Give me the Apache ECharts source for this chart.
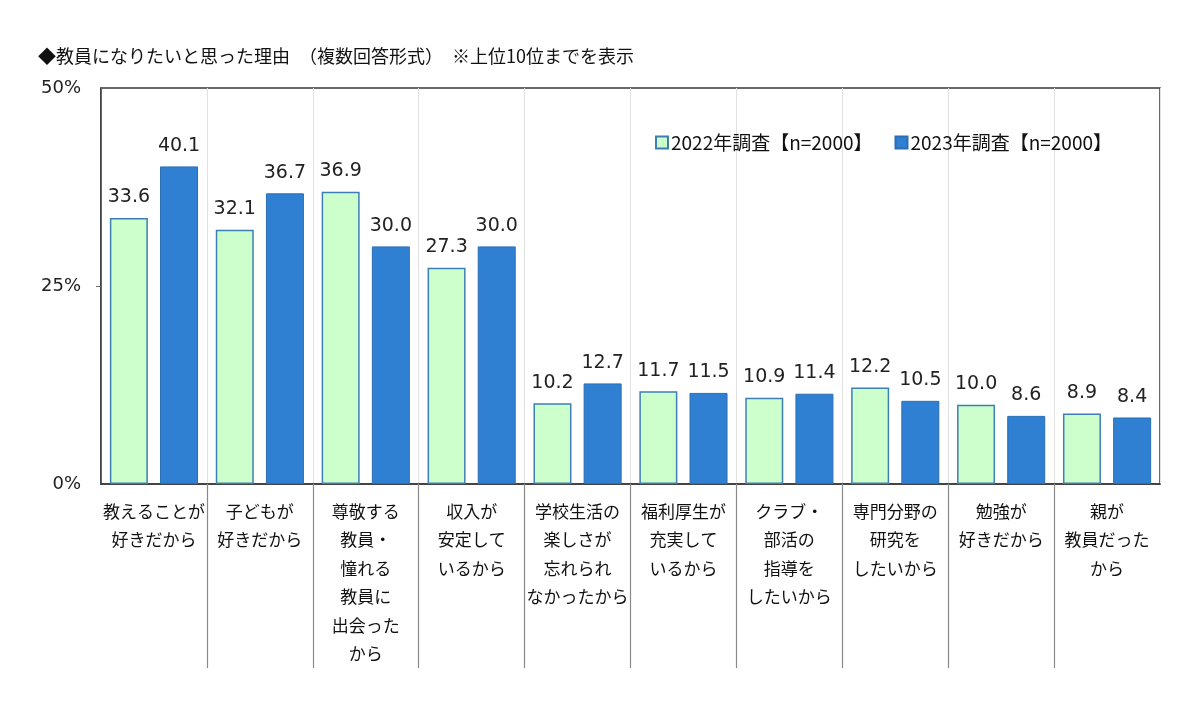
<!DOCTYPE html>
<html><head><meta charset="utf-8">
<script src="https://cdn.jsdelivr.net/npm/echarts@6/dist/echarts.min.js"></script>
<style>html,body{margin:0;padding:0;background:#fff}#c{width:1200px;height:701px}</style>
</head><body><div id="c"></div>
<script>
const titleText = '◆教員になりたいと思った理由　（複数回答形式）　※上位10位までを表示';
const categories = [
  '教えることが\n好きだから',
  '子どもが\n好きだから',
  '尊敬する\n教員・\n憧れる\n教員に\n出会った\nから',
  '収入が\n安定して\nいるから',
  '学校生活の\n楽しさが\n忘れられ\nなかったから',
  '福利厚生が\n充実して\nいるから',
  'クラブ・\n部活の\n指導を\nしたいから',
  '専門分野の\n研究を\nしたいから',
  '勉強が\n好きだから',
  '親が\n教員だった\nから'
];
const seriesNames = ['2022年調査【n=2000】', '2023年調査【n=2000】'];
const values2022 = [33.6, 32.1, 36.9, 27.3, 10.2, 11.7, 10.9, 12.2, 10.0, 8.9];
const values2023 = [40.1, 36.7, 30.0, 30.0, 12.7, 11.5, 11.4, 10.5, 8.6, 8.4];
const yTicks = [0, 25, 50];
const yInnerTicks = [25];
const separatorPositions = [1, 2, 3, 4, 5, 6, 7, 8, 9];

const jp = '"Noto Sans CJK JP", "Noto Sans", sans-serif';
const num = '"DejaVu Sans", Verdana, sans-serif';
const chart = echarts.init(document.getElementById('c'), null, {renderer: 'canvas'});
const labelCfg = {
  show: true, position: 'top', distance: 11,
  fontFamily: num, fontSize: 19, color: '#222',
  formatter: p => p.value.toFixed(1)
};
chart.setOption({
  animation: false,
  title: {
    text: titleText, left: 33, top: 42,
    textStyle: {fontFamily: jp, fontSize: 18, fontWeight: 'normal', color: '#111'}
  },
  legend: {
    left: 650, top: 128, itemWidth: 12, itemHeight: 12, itemGap: 22, icon: 'rect',
    textStyle: {fontFamily: jp, fontSize: 19, color: '#111', padding: [0, 0, 0, -2]},
    data: seriesNames
  },
  grid: {
    left: 101, right: 40, top: 88, bottom: 217,
    show: true, borderColor: '#3a3a3a', borderWidth: 1.5, backgroundColor: 'transparent'
  },
  xAxis: [{
    type: 'category', data: categories,
    axisLine: {lineStyle: {color: '#3a3a3a', width: 1.5}},
    axisTick: {show: false},
    splitLine: {show: true, lineStyle: {color: '#e2e2e2', width: 1}},
    axisLabel: {
      interval: 0, margin: 13, fontFamily: jp, fontSize: 17, lineHeight: 28.5,
      color: '#111', verticalAlign: 'top'
    }
  }, {
    type: 'value', min: 0, max: 10, position: 'bottom',
    axisLine: {show: false},
    axisLabel: {show: false},
    splitLine: {show: false},
    axisTick: {show: true, customValues: separatorPositions, length: 184, inside: false,
      lineStyle: {color: '#8a8a8a', width: 1.2}}
  }],
  yAxis: {
    type: 'value', min: yTicks[0], max: yTicks[yTicks.length - 1], interval: 25,
    axisLine: {show: true, lineStyle: {color: '#3a3a3a', width: 1.5}},
    axisTick: {show: true, length: 5, customValues: yInnerTicks, lineStyle: {color: '#666'}},
    splitLine: {show: false},
    axisLabel: {formatter: '{value}%', fontFamily: num, fontSize: 18, color: '#222', margin: 20}
  },
  series: [{
    name: seriesNames[0], type: 'bar', data: values2022, barWidth: 38, barGap: '32%',
    itemStyle: {color: '#ccffcc', borderColor: '#3d7fb4', borderWidth: 1.5},
    label: labelCfg
  }, {
    name: seriesNames[1], type: 'bar', data: values2023, barWidth: 38,
    itemStyle: {color: '#2f80d3', borderColor: '#2a6fb5', borderWidth: 1},
    label: labelCfg
  }]
});
</script>
</body></html>
